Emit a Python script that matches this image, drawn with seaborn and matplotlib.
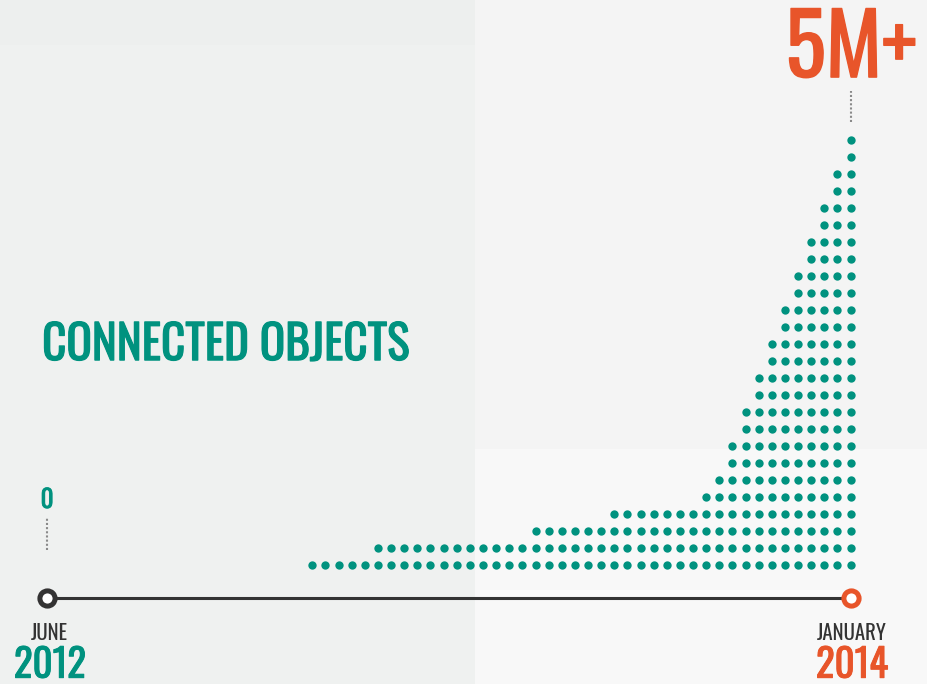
import pandas as pd
import numpy as np
import matplotlib.pyplot as plt
import matplotlib.patheffects as pe
import seaborn as sns

# dados: numero de pontos em cada coluna (da esquerda para a direita)
dot_counts = [1, 1, 1, 1, 1,
              2, 2, 2, 2, 2, 2, 2, 2, 2, 2, 2, 2,
              3, 3, 3, 3, 3, 3,
              4, 4, 4, 4, 4, 4, 4,
              5, 6, 8, 10, 12, 14, 16, 18, 20, 22, 24, 26]
title_text = "CONNECTED OBJECTS"
start_value = "0"
end_value = "5M+"
start_month, start_year = "JUNE", "2012"
end_month, end_year = "JANUARY", "2014"

# cores
TEAL = '#00927f'
ORANGE = '#e8552a'
DARK = '#333333'

# tabela longa: uma linha por ponto
cols, rows = [], []
for c, n in enumerate(dot_counts):
    cols += [c] * n
    rows += list(range(n))
df = pd.DataFrame({'coluna': cols, 'linha': rows})

sns.set_style('white')
plt.rcParams['font.family'] = ['Oswald', 'Open Sans Condensed', 'DejaVu Sans']


def negrito(cor, lw):
    # engrossa o traço da fonte (Oswald só tem o peso regular)
    return [pe.withStroke(linewidth=lw, foreground=cor)]


fig = plt.figure(figsize=(9.27, 6.84), dpi=100)
fig.patch.set_facecolor('#eff1f0')
ax = fig.add_axes([0, 0, 1, 1])
x0, x1 = -23.79, 46.82
y0, y1 = -6.99, 33.20

# fundo em blocos
ax.axvspan(x0, 12.4, ymin=0, ymax=1, color='#eff1f0', lw=0, zorder=0)
ax.axvspan(x0, 12.4, ymin=(30.55 - y0) / (y1 - y0), ymax=1, color='#edefee', lw=0, zorder=0)
ax.axvspan(12.4, x1, color='#f4f4f4', lw=0, zorder=0)
ax.axvspan(12.4, x1, ymin=0, ymax=(6.82 - y0) / (y1 - y0), color='#f8f8f8', lw=0, zorder=0)

# pontos
sns.scatterplot(data=df, x='coluna', y='linha', color=TEAL, s=36,
                linewidth=0, ax=ax, zorder=3, legend=False)

# linha do tempo
last_col = len(dot_counts) - 1
start_col = -20.2
line_y = -1.94
ax.plot([start_col, last_col], [line_y, line_y], color=DARK, lw=2.2, zorder=2,
        solid_capstyle='butt')
ax.scatter([start_col], [line_y], s=120, facecolor='white', edgecolor=DARK,
           linewidth=3.6, zorder=4)
ax.scatter([last_col], [line_y], s=120, facecolor='white', edgecolor=ORANGE,
           linewidth=3.6, zorder=4)

# linhas pontilhadas
ax.plot([start_col, start_col], [0.88, 2.76], color='#8a8a8a', lw=1.5,
        linestyle=(0, (1, 1)), zorder=2)
ax.plot([last_col, last_col], [dot_counts[-1] + 0.03, dot_counts[-1] + 1.85],
        color='#8a8a8a', lw=1.5, linestyle=(0, (1, 1)), zorder=2)

# textos
ax.text(-20.58, 12.04, title_text, color=TEAL, fontsize=34,
        ha='left', va='baseline', path_effects=negrito(TEAL, 0.8))
ax.text(last_col + 0.05, 28.67, end_value, color=ORANGE, fontsize=61,
        ha='center', va='baseline', path_effects=negrito(ORANGE, 1.0))
ax.text(start_col, 3.35, start_value, color=TEAL, fontsize=18,
        ha='center', va='baseline', path_effects=negrito(TEAL, 0.6))
ax.text(start_col + 0.2, -4.41, start_month, color=DARK, fontsize=15,
        ha='center', va='baseline')
ax.text(start_col + 0.2, -6.62, start_year, color=TEAL, fontsize=28,
        ha='center', va='baseline', path_effects=negrito(TEAL, 0.7))
ax.text(last_col + 0.1, -4.41, end_month, color=DARK, fontsize=15,
        ha='center', va='baseline')
ax.text(last_col + 0.1, -6.62, end_year, color=ORANGE, fontsize=28,
        ha='center', va='baseline', path_effects=negrito(ORANGE, 0.7))

ax.set_xlim(x0, x1)
ax.set_ylim(y0, y1)
ax.axis('off')

plt.savefig('out.png', dpi=100, facecolor=fig.get_facecolor())
plt.close()
